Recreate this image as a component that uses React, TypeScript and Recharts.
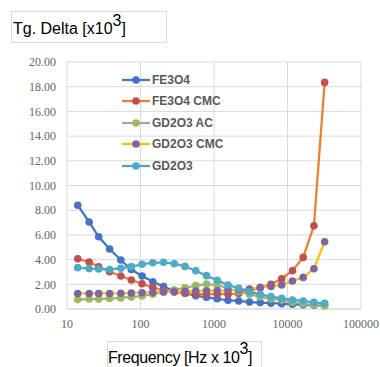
import React from 'react';
import { LineChart, Line, XAxis, YAxis, CartesianGrid, Legend } from 'recharts';

const frequencies = [14, 20, 27, 38, 54, 75, 105, 147, 206, 288, 404, 565, 791, 1107, 1550, 2170, 3038, 4254, 5955, 8337, 11672, 16341, 22877, 32028];

const fe3o4 = [8.4, 7.05, 5.85, 4.86, 3.97, 3.2, 2.67, 2.2, 1.81, 1.46, 1.27, 1.08, 0.95, 0.83, 0.7, 0.65, 0.56, 0.52, 0.47, 0.43, 0.38, 0.34, 0.3, 0.28];
const fe3o4Cmc = [4.07, 3.8, 3.42, 3.02, 2.67, 2.35, 2.04, 1.75, 1.5, 1.38, 1.28, 1.22, 1.2, 1.22, 1.2, 1.25, 1.45, 1.72, 2.0, 2.45, 3.1, 4.18, 6.74, 18.35];
const gd2o3Ac = [0.76, 0.8, 0.8, 0.85, 0.9, 0.98, 1.05, 1.2, 1.38, 1.55, 1.72, 1.89, 2.02, 1.94, 1.68, 1.42, 1.2, 0.98, 0.82, 0.72, 0.54, 0.42, 0.32, 0.24];
const gd2o3Cmc = [1.26, 1.26, 1.26, 1.26, 1.27, 1.3, 1.32, 1.35, 1.38, 1.4, 1.44, 1.46, 1.48, 1.48, 1.5, 1.55, 1.62, 1.75, 1.83, 1.95, 2.27, 2.56, 3.26, 5.45];
const gd2o3 = [3.35, 3.27, 3.24, 3.2, 3.3, 3.43, 3.62, 3.75, 3.78, 3.67, 3.45, 3.1, 2.7, 2.32, 1.94, 1.67, 1.4, 1.19, 1.0, 0.86, 0.73, 0.65, 0.54, 0.46];

const xTicks = [10, 100, 1000, 10000, 100000];
const yTicks = [0, 2, 4, 6, 8, 10, 12, 14, 16, 18, 20];

const seriesNames = ['FE3O4', 'FE3O4 CMC', 'GD2O3 AC', 'GD2O3 CMC', 'GD2O3'];
const seriesValues = [fe3o4, fe3o4Cmc, gd2o3Ac, gd2o3Cmc, gd2o3];
const lineColors = ['#4472C4', '#ED7D31', '#A5A5A5', '#FFC000', '#5B9BD5'];
const markerColors = ['#4472C4', '#C0504D', '#9BBB59', '#8064A2', '#4BACC6'];
const keys = ['s0', 's1', 's2', 's3', 's4'];

const data = frequencies.map((f, i) => {
  const row: Record<string, number> = { f };
  keys.forEach((k, s) => {
    row[k] = seriesValues[s][i];
  });
  return row;
});

const renderLegend = () => (
  <div style={{ display: 'flex', flexDirection: 'column' }}>
    {seriesNames.map((name, s) => (
      <div key={name} style={{ display: 'flex', alignItems: 'center', height: 21.5 }}>
        <svg width={30} height={10} style={{ display: 'block' }}>
          <line x1={0} y1={5} x2={28} y2={5} stroke={lineColors[s]} strokeWidth={2.25} />
          <circle cx={14} cy={5} r={3.8} fill={markerColors[s]} />
        </svg>
        <span
          style={{
            fontFamily: '"Liberation Sans", Arial, sans-serif',
            fontWeight: 700,
            fontSize: 12,
            color: '#595959',
            whiteSpace: 'nowrap',
          }}
        >
          {name}
        </span>
      </div>
    ))}
  </div>
);

const tickStyle = { fontFamily: '"Liberation Serif", serif', fontSize: 12, fill: '#666666' };

export default function App() {
  return (
    <div style={{ position: 'absolute', left: 0, top: 0, width: 380, height: 367, overflow: 'hidden', background: '#fff' }}>
      <LineChart width={380} height={367} data={data} margin={{ top: 62, right: 19, bottom: 28, left: 0 }}>
        <CartesianGrid stroke="#d9d9d9" strokeWidth={1} />
        <XAxis
          type="number"
          dataKey="f"
          scale="log"
          domain={[10, 100000]}
          ticks={xTicks}
          allowDataOverflow
          axisLine={{ stroke: '#d9d9d9' }}
          tickLine={false}
          tickMargin={4}
          height={30}
          tick={tickStyle}
          interval={0}
        />
        <YAxis
          type="number"
          domain={[0, 20]}
          ticks={yTicks}
          width={67}
          axisLine={false}
          tickLine={false}
          tickMargin={5}
          tick={tickStyle}
          tickFormatter={(v: number) => v.toFixed(2)}
          interval={0}
        />
        <Legend
          content={renderLegend}
          layout="vertical"
          align="center"
          verticalAlign="middle"
          wrapperStyle={{ position: 'absolute', left: 122, top: 69, width: 'auto' }}
        />
        {keys.map((k, s) => (
          <Line
            key={k}
            dataKey={k}
            name={seriesNames[s]}
            type="linear"
            stroke={lineColors[s]}
            strokeWidth={2.25}
            dot={{ r: 3.8, fill: markerColors[s], stroke: markerColors[s], strokeWidth: 0 }}
            activeDot={false}
            isAnimationActive={false}
          />
        ))}
      </LineChart>
      <svg width={380} height={367} style={{ position: 'absolute', left: 0, top: 0, pointerEvents: 'none' }}>
        <rect x={11.5} y={11.5} width={155} height={31} fill="none" stroke="#d9d9d9" />
        <text x={13} y={33.5} fontFamily='"Liberation Sans", Arial, sans-serif' fontSize={16} fill="#000">
          Tg. Delta [x10
          <tspan dy={-8}>3</tspan>
          <tspan dy={8}>]</tspan>
        </text>
        <rect x={107.5} y={341.5} width={154} height={40} fill="none" stroke="#d9d9d9" />
        <text x={108} y={362.5} fontFamily='"Liberation Sans", Arial, sans-serif' fontSize={16} letterSpacing={-0.4} fill="#000">
          Frequency [Hz x 10
          <tspan dy={-9}>3</tspan>
          <tspan dy={9}>]</tspan>
        </text>
      </svg>
    </div>
  );
}
